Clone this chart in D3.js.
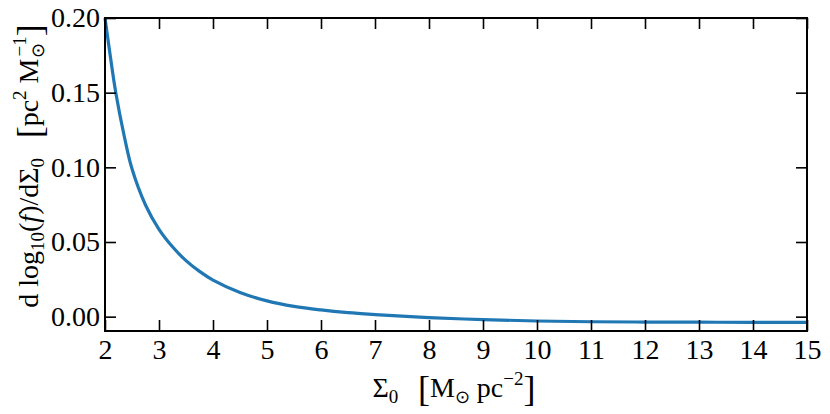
<!DOCTYPE html>
<html><head><meta charset="utf-8">
<script src="https://cdn.jsdelivr.net/npm/d3@7"></script>
<style>body{margin:0;background:#fff}svg{display:block}</style>
</head><body><svg id="c" width="830" height="414"></svg>
<script>
const sigma0 = [2, 2.1, 2.2, 2.35, 2.5, 2.75, 3, 3.25, 3.5, 3.75, 4, 4.5, 5, 5.5, 6, 6.5, 7, 7.5, 8, 9, 10, 11, 12, 13, 14, 15];
const dlogf  = [0.200, 0.174, 0.150, 0.122, 0.099, 0.0748, 0.0585, 0.0468, 0.0375, 0.0303, 0.0245, 0.0162, 0.0106, 0.0069, 0.0045, 0.0027, 0.0014, 0.0003, -0.0006, -0.0020, -0.0029, -0.0034, -0.0036, -0.0037, -0.0038, -0.0038];
const xTicks = [2,3,4,5,6,7,8,9,10,11,12,13,14,15];
const yTicks = [0.00, 0.05, 0.10, 0.15, 0.20];

const FONT = 'Liberation Serif';
const L=105, R=807, T=18, B=331;
const svg = d3.select("#c");
const x = d3.scaleLinear().domain([2,15]).range([L,R]);
const y = d3.scaleLinear().domain([-0.0096,0.2]).range([B,T]);

const line = d3.line().x((d,i)=>x(sigma0[i])).y(d=>y(d)).curve(d3.curveCatmullRom.alpha(0.5));
svg.append("path").datum(dlogf).attr("d",line).attr("fill","none").attr("stroke","#1f77b4").attr("stroke-width",3.2);

const tl=11, fs=28;
const axB = d3.axisBottom(x).tickValues(xTicks).tickSize(-tl).tickPadding(8).tickFormat(d3.format("d"));
const axT = d3.axisTop(x).tickValues(xTicks).tickSize(-tl).tickFormat("");
const axL = d3.axisLeft(y).tickValues(yTicks).tickSize(-tl).tickPadding(5).tickFormat(d3.format(".2f"));
const axR = d3.axisRight(y).tickValues(yTicks).tickSize(-tl).tickFormat("");
function style(g){g.attr("font-family",FONT).attr("font-size",fs);g.selectAll("path").remove();g.selectAll("line").attr("stroke","#000").attr("stroke-width",1.6);g.selectAll("text").attr("fill","#000");}
svg.append("g").attr("transform",`translate(0,${B})`).call(axB).call(style);
svg.append("g").attr("transform",`translate(0,${T})`).call(axT).call(style);
svg.append("g").attr("transform",`translate(${L},0)`).call(axL).call(style);
svg.append("g").attr("transform",`translate(${R},0)`).call(axR).call(style);
svg.append("rect").attr("x",L).attr("y",T).attr("width",R-L).attr("height",B-T).attr("fill","none").attr("stroke","#000").attr("stroke-width",2);

const lf=28, sub=19;
// x label
const xl = svg.append("text").attr("x",454).attr("y",397).attr("text-anchor","middle").attr("font-family",FONT).attr("font-size",lf);
xl.append("tspan").text("Σ");
xl.append("tspan").attr("font-size",sub).attr("dy",6).text("0");
xl.append("tspan").attr("dy",-6).text("\u2002\u2009");
xl.append("tspan").attr("font-size",36).attr("dy",4).text("[");
xl.append("tspan").attr("dy",-4).text("M");
xl.append("tspan").attr("font-size",18).attr("dy",6).text("⊙");
xl.append("tspan").attr("dy",-6).text(" pc");
xl.append("tspan").attr("font-size",sub).attr("dy",-12).text("−2");
xl.append("tspan").attr("font-size",36).attr("dy",16).text("]");

// y label
const yl = svg.append("text").attr("transform","translate(38,166) rotate(-90)").attr("text-anchor","middle").attr("font-family",FONT).attr("font-size",lf);
yl.append("tspan").text("d log");
yl.append("tspan").attr("font-size",sub).attr("dy",6).text("10");
yl.append("tspan").attr("dy",-6).text("(");
yl.append("tspan").attr("font-style","italic").text("f");
yl.append("tspan").text(")/dΣ");
yl.append("tspan").attr("font-size",sub).attr("dy",6).text("0");
yl.append("tspan").attr("dy",-6).text("\u2002\u2009");
yl.append("tspan").attr("font-size",36).attr("dy",4).text("[");
yl.append("tspan").attr("dy",-4).text("pc");
yl.append("tspan").attr("font-size",sub).attr("dy",-12).text("2");
yl.append("tspan").attr("dy",12).text(" M");
yl.append("tspan").attr("font-size",18).attr("dy",6).text("⊙");
yl.append("tspan").attr("font-size",sub).attr("dx",-13).attr("dy",-18).text("−1");
yl.append("tspan").attr("font-size",36).attr("dy",16).text("]");
</script></body></html>
